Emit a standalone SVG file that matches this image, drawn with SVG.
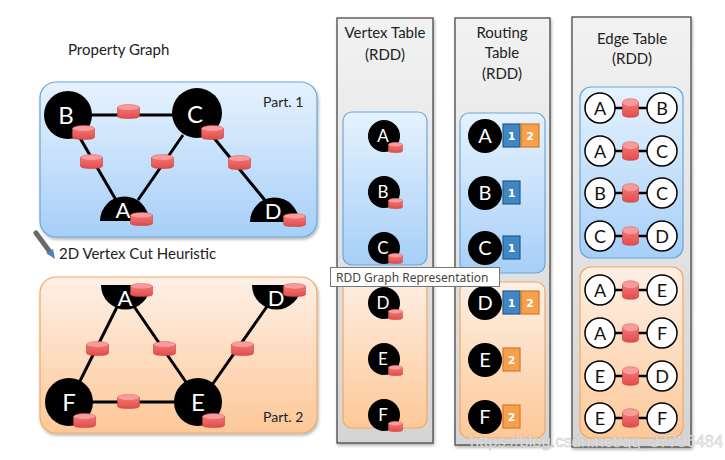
<svg xmlns="http://www.w3.org/2000/svg" xmlns:xlink="http://www.w3.org/1999/xlink" width="725" height="460" viewBox="0 0 725 460">
<defs>
<linearGradient id="gBlue" x1="0" y1="0" x2="0" y2="1"><stop offset="0" stop-color="#e6f2fe"/><stop offset="1" stop-color="#a6cff8"/></linearGradient>
<linearGradient id="gOrange" x1="0" y1="0" x2="0" y2="1"><stop offset="0" stop-color="#fdf0e6"/><stop offset="1" stop-color="#fdc898"/></linearGradient>
<linearGradient id="gGray" x1="0" y1="0" x2="0" y2="1"><stop offset="0" stop-color="#f2f2f2"/><stop offset="1" stop-color="#d4d4d4"/></linearGradient>
<linearGradient id="gCyl" x1="0" y1="0" x2="0" y2="1"><stop offset="0" stop-color="#f47676"/><stop offset="1" stop-color="#e24b4b"/></linearGradient>
<symbol id="cyl" viewBox="0 0 22 15" preserveAspectRatio="none">
<path d="M0.5,3.5 V12 Q0.5,14.5 11,14.5 Q21.5,14.5 21.5,12 V3.5 Z" fill="url(#gCyl)" stroke="#c94040" stroke-width="0.6"/>
<ellipse cx="11" cy="3.5" rx="10.5" ry="3" fill="#fb9a9a" stroke="#d85a5a" stroke-width="0.5"/>
</symbol>
<filter id="sh" x="-10%" y="-10%" width="130%" height="130%"><feDropShadow dx="1" dy="2" stdDeviation="1.5" flood-opacity="0.3"/></filter>
</defs>
<style>
.lbl{font-family:Lato,"Open Sans","Liberation Sans",sans-serif;fill:#222}
.nd{font-family:Lato,"Open Sans","Liberation Sans",sans-serif;fill:#fff;text-anchor:middle}
.et{font-family:Lato,"Open Sans","Liberation Sans",sans-serif;fill:#111;text-anchor:middle;font-size:18px}
.blue{fill:url(#gBlue);stroke:#6aa6d8;stroke-width:1.2}
.orange{fill:url(#gOrange);stroke:#f3a760;stroke-width:1.2}
.col{fill:url(#gGray);stroke:#4a4a4a;stroke-width:1.3}
.edge{stroke:#000;stroke-width:3;fill:none}
.ec{fill:#fff;stroke:#000;stroke-width:1.5}
.rb{fill:#3f86c2;stroke:#275c8c;stroke-width:1.2}
.ro{fill:#f7a04c;stroke:#d07a2c;stroke-width:1.2}
.rt{font-family:"DejaVu Sans",sans-serif;font-weight:bold;font-size:11px;fill:#fff;text-anchor:middle}
.hd{font-family:Lato,"Open Sans","Liberation Sans",sans-serif;font-size:15px;fill:#222;text-anchor:middle}
</style>
<rect width="725" height="460" fill="#fff"/>

<!-- left graph -->
<text class="lbl" x="68" y="55" font-size="15">Property Graph</text>
<rect id="part1" class="blue" x="40" y="82" width="277" height="155" rx="16" filter="url(#sh)"/>
<text class="lbl" x="263" y="107" font-size="14">Part. 1</text>

<g id="pencil">
<path d="M36,233 L50,252" stroke="#6a6a6a" stroke-width="5" stroke-linecap="round"/>
<path d="M46,253 L55,259 L53,249 Z" fill="#4a82c0"/>
</g>
<text class="lbl" x="59" y="259" font-size="15">2D Vertex Cut Heuristic</text>

<rect id="part2" class="orange" x="40" y="277" width="277" height="156" rx="16" filter="url(#sh)"/>
<text class="lbl" x="263" y="422" font-size="14">Part. 2</text>

<g id="connectors">
<line class="edge" x1="68" y1="115" x2="197" y2="115"/>
<line class="edge" x1="80" y1="138" x2="116" y2="200"/>
<line class="edge" x1="183" y1="135" x2="138" y2="200"/>
<line class="edge" x1="214" y1="138" x2="268" y2="204"/>
<line class="edge" x1="118" y1="305" x2="78" y2="385"/>
<line class="edge" x1="133" y1="305" x2="188" y2="385"/>
<line class="edge" x1="69" y1="402" x2="198" y2="402"/>
<line class="edge" x1="212" y1="385" x2="268" y2="305"/>
<use href="#cyl" x="117" y="104" width="23" height="15"/>
<use href="#cyl" x="80" y="154" width="23" height="15"/>
<use href="#cyl" x="151" y="154" width="23" height="15"/>
<use href="#cyl" x="228" y="155" width="23" height="15"/>
<use href="#cyl" x="86" y="341" width="23" height="15"/>
<use href="#cyl" x="153" y="341" width="23" height="15"/>
<use href="#cyl" x="231" y="341" width="23" height="15"/>
<use href="#cyl" x="117" y="394" width="23" height="15"/>
</g>

<g id="p1-B"><circle cx="68" cy="115" r="24"/><text class="nd" x="66" y="124" font-size="24">B</text><use href="#cyl" x="72" y="125" width="23" height="15"/></g>
<g id="p1-C"><circle cx="197" cy="113" r="25"/><text class="nd" x="195" y="123" font-size="24">C</text><use href="#cyl" x="201" y="125" width="23" height="15"/></g>
<g id="p1-A"><path d="M100,221 A24.5,24.5 0 0 1 149,221 Z"/><text class="nd" x="123" y="218" font-size="22">A</text><use href="#cyl" x="130" y="212" width="23" height="14"/></g>
<g id="p1-D"><path d="M250,222 A24.5,24.5 0 0 1 299,222 Z"/><text class="nd" x="273" y="219" font-size="22">D</text><use href="#cyl" x="283" y="213" width="23" height="14"/></g>

<g id="p2-A"><path d="M101,285 A24.5,24.5 0 0 0 150,285 Z"/><text class="nd" x="125" y="306" font-size="22">A</text><use href="#cyl" x="130" y="283" width="23" height="14"/></g>
<g id="p2-D"><path d="M252,285 A24.5,24.5 0 0 0 301,285 Z"/><text class="nd" x="276" y="306" font-size="22">D</text><use href="#cyl" x="283" y="283" width="23" height="14"/></g>
<g id="p2-F"><circle cx="69" cy="402" r="24"/><text class="nd" x="69" y="411" font-size="24">F</text><use href="#cyl" x="73" y="413" width="23" height="15"/></g>
<g id="p2-E"><circle cx="198" cy="402" r="24"/><text class="nd" x="198" y="411" font-size="24">E</text><use href="#cyl" x="202" y="413" width="23" height="15"/></g>

<!-- Vertex table -->
<g id="vertex-table">
<rect class="col" x="337" y="18" width="96" height="425" filter="url(#sh)"/>
<text class="hd" x="385" y="38">Vertex Table</text>
<text class="hd" x="385" y="60">(RDD)</text>
<rect class="blue" x="343" y="112" width="84" height="153" rx="9"/>
<rect class="orange" x="343" y="272" width="84" height="156" rx="9"/>
<g id="vt-A"><circle cx="384" cy="136" r="16"/><text class="nd" x="383" y="142" font-size="17">A</text><use href="#cyl" x="388" y="142" width="15" height="11"/></g>
<g id="vt-B"><circle cx="384" cy="192" r="16"/><text class="nd" x="383" y="198" font-size="17">B</text><use href="#cyl" x="388" y="198" width="15" height="11"/></g>
<g id="vt-C"><circle cx="384" cy="248" r="16"/><text class="nd" x="383" y="254" font-size="17">C</text><use href="#cyl" x="388" y="253" width="15" height="11"/></g>
<g id="vt-D"><circle cx="384" cy="303" r="16"/><text class="nd" x="383" y="309" font-size="17">D</text><use href="#cyl" x="388" y="309" width="15" height="11"/></g>
<g id="vt-E"><circle cx="384" cy="359" r="16"/><text class="nd" x="383" y="365" font-size="17">E</text><use href="#cyl" x="388" y="365" width="15" height="11"/></g>
<g id="vt-F"><circle cx="384" cy="415" r="16"/><text class="nd" x="383" y="421" font-size="17">F</text><use href="#cyl" x="388" y="421" width="15" height="11"/></g>
</g>

<!-- Routing table -->
<g id="routing-table">
<rect class="col" x="455" y="18" width="95" height="427" filter="url(#sh)"/>
<text class="hd" x="502" y="38">Routing</text>
<text class="hd" x="502" y="58">Table</text>
<text class="hd" x="502" y="79">(RDD)</text>
<rect class="blue" x="460" y="113" width="85" height="160" rx="9"/>
<rect class="orange" x="460" y="282" width="85" height="156" rx="9"/>
<g id="rt-A"><circle cx="485" cy="136" r="17"/><text class="nd" x="485" y="143" font-size="20">A</text><rect class="rb" x="503" y="124" width="17" height="23"/><text class="rt" x="511.5" y="140">1</text><rect class="ro" x="521" y="124" width="18" height="23"/><text class="rt" x="530" y="140">2</text></g>
<g id="rt-B"><circle cx="485" cy="193" r="17"/><text class="nd" x="485" y="200" font-size="20">B</text><rect class="rb" x="503" y="181" width="17" height="23"/><text class="rt" x="511.5" y="197">1</text></g>
<g id="rt-C"><circle cx="485" cy="248" r="17"/><text class="nd" x="485" y="255" font-size="20">C</text><rect class="rb" x="503" y="236" width="17" height="23"/><text class="rt" x="511.5" y="252">1</text></g>
<g id="rt-D"><circle cx="485" cy="303" r="17"/><text class="nd" x="485" y="310" font-size="20">D</text><rect class="rb" x="503" y="291" width="17" height="23"/><text class="rt" x="511.5" y="307">1</text><rect class="ro" x="521" y="291" width="18" height="23"/><text class="rt" x="530" y="307">2</text></g>
<g id="rt-E"><circle cx="485" cy="360" r="17"/><text class="nd" x="485" y="367" font-size="20">E</text><rect class="ro" x="503" y="348" width="17" height="23"/><text class="rt" x="511.5" y="364">2</text></g>
<g id="rt-F"><circle cx="485" cy="417" r="17"/><text class="nd" x="485" y="424" font-size="20">F</text><rect class="ro" x="503" y="405" width="17" height="23"/><text class="rt" x="511.5" y="421">2</text></g>
</g>

<!-- Edge table -->
<g id="edge-table">
<rect class="col" x="572" y="17" width="119" height="430" filter="url(#sh)"/>
<text class="hd" x="632" y="44">Edge Table</text>
<text class="hd" x="632" y="64">(RDD)</text>
<rect class="blue" x="580" y="87" width="103" height="171" rx="11"/>
<rect class="orange" x="580" y="267" width="103" height="171" rx="11"/>
<g id="et-AB"><line x1="614" y1="108" x2="648" y2="108" stroke="#000" stroke-width="2.5"/><circle class="ec" cx="600" cy="108" r="15"/><circle class="ec" cx="662" cy="108" r="15"/><text class="et" x="600" y="115">A</text><text class="et" x="662" y="115">B</text><use href="#cyl" x="622" y="98" width="17" height="20"/></g>
<g id="et-AC"><line x1="614" y1="151" x2="648" y2="151" stroke="#000" stroke-width="2.5"/><circle class="ec" cx="600" cy="151" r="15"/><circle class="ec" cx="662" cy="151" r="15"/><text class="et" x="600" y="158">A</text><text class="et" x="662" y="158">C</text><use href="#cyl" x="622" y="141" width="17" height="20"/></g>
<g id="et-BC"><line x1="614" y1="193" x2="648" y2="193" stroke="#000" stroke-width="2.5"/><circle class="ec" cx="600" cy="193" r="15"/><circle class="ec" cx="662" cy="193" r="15"/><text class="et" x="600" y="200">B</text><text class="et" x="662" y="200">C</text><use href="#cyl" x="622" y="183" width="17" height="20"/></g>
<g id="et-CD"><line x1="614" y1="236" x2="648" y2="236" stroke="#000" stroke-width="2.5"/><circle class="ec" cx="600" cy="236" r="15"/><circle class="ec" cx="662" cy="236" r="15"/><text class="et" x="600" y="243">C</text><text class="et" x="662" y="243">D</text><use href="#cyl" x="622" y="226" width="17" height="20"/></g>
<g id="et-AE"><line x1="614" y1="290" x2="648" y2="290" stroke="#000" stroke-width="2.5"/><circle class="ec" cx="600" cy="290" r="15"/><circle class="ec" cx="662" cy="290" r="15"/><text class="et" x="600" y="297">A</text><text class="et" x="662" y="297">E</text><use href="#cyl" x="622" y="280" width="17" height="20"/></g>
<g id="et-AF"><line x1="614" y1="333" x2="648" y2="333" stroke="#000" stroke-width="2.5"/><circle class="ec" cx="600" cy="333" r="15"/><circle class="ec" cx="662" cy="333" r="15"/><text class="et" x="600" y="340">A</text><text class="et" x="662" y="340">F</text><use href="#cyl" x="622" y="323" width="17" height="20"/></g>
<g id="et-ED"><line x1="614" y1="376" x2="648" y2="376" stroke="#000" stroke-width="2.5"/><circle class="ec" cx="600" cy="376" r="15"/><circle class="ec" cx="662" cy="376" r="15"/><text class="et" x="600" y="383">E</text><text class="et" x="662" y="383">D</text><use href="#cyl" x="622" y="366" width="17" height="20"/></g>
<g id="et-EF"><line x1="614" y1="418" x2="648" y2="418" stroke="#000" stroke-width="2.5"/><circle class="ec" cx="600" cy="418" r="15"/><circle class="ec" cx="662" cy="418" r="15"/><text class="et" x="600" y="425">E</text><text class="et" x="662" y="425">F</text><use href="#cyl" x="622" y="408" width="17" height="20"/></g>
</g>

<!-- tooltip -->
<g id="tooltip">
<rect x="330.5" y="267.5" width="169" height="19" fill="#fff" stroke="#767676" stroke-width="1"/>
<text x="336" y="282" font-family="'Noto Sans','DejaVu Sans',sans-serif" font-size="12" fill="#444">RDD Graph Representation</text>
</g>

<text x="470" y="447" font-family="'Liberation Sans',Arial,sans-serif" font-size="16.5" fill="#f2f2f2" fill-opacity="0.85" stroke="#bbbbbb" stroke-width="0.4">https://blog.csdn.net/qq_37706484</text>
</svg>
